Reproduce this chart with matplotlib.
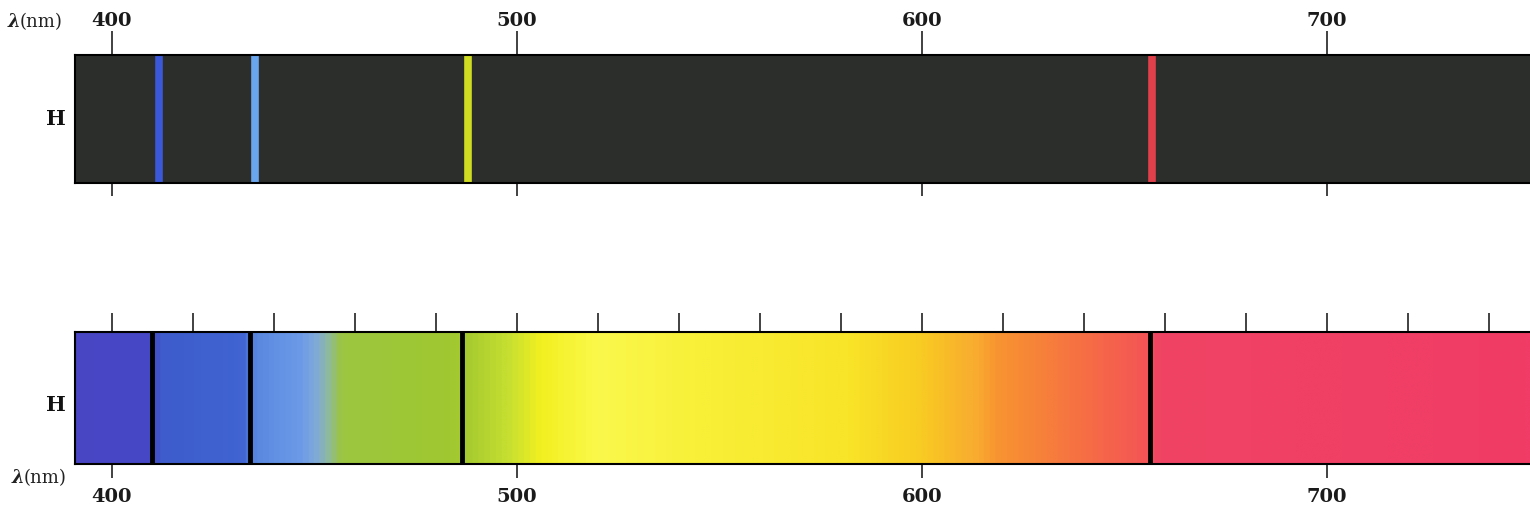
import numpy as np
import matplotlib
matplotlib.use("Agg")
import matplotlib.pyplot as plt
from matplotlib.colors import LinearSegmentedColormap

# -----------------------------------
# DATA
# -----------------------------------
wl_min, wl_max = 390.9, 750.1
label_ticks = [400, 500, 600, 700]
fine_ticks = list(range(400, 741, 20))

# hydrogen lines as drawn (nm)
emission_nm = [411.7, 435.4, 487.8, 656.9]
emission_colors = ["#3a58d8", "#6aa6ee", "#cfdc22", "#e0404a"]
absorption_nm = [409.9, 434.0, 486.4, 656.3]

# colour of the continuous band along the wavelength
band_nm = [390.9, 409.0, 412.0, 431.6, 435.0, 446.0, 450.0, 452.6, 456.0,
           483.0, 488.0, 498.0, 505.7, 520.0, 545.0, 582.0, 599.5, 614.0,
           619.0, 631.6, 644.0, 656.0, 658.8, 750.1]
band_colors = ["#4a46c4", "#4548c6", "#3e5ccc", "#4064d2", "#5a88e0",
               "#6c9ae8", "#80aad8", "#8cb8a8", "#9cc640", "#a0c830",
               "#a8cc30", "#c8e030", "#f2f020", "#fbf84c", "#f8f038",
               "#f8e428", "#f8cc22", "#f8aa30", "#f89430", "#f67e3c",
               "#f66848", "#f45456", "#f04464", "#f03c66"]

# -----------------------------------
# FIGURE
# -----------------------------------
W, H = 1530, 526
fig = plt.figure(figsize=(W / 100, H / 100), dpi=100)
fig.patch.set_facecolor("white")

left = 75 / W
tick_col = "#333333"
num_font = dict(family="DejaVu Serif", size=14, weight="bold", color="#1a1a1a")


def px_box(top_px, bottom_px):
    return [left, 1 - bottom_px / H, 1 - left, (bottom_px - top_px) / H]


# Emission spectrum (top)
ax1 = fig.add_axes(px_box(55, 183))
ax1.set_facecolor("#2b2e2b")
ax1.set_xlim(wl_min, wl_max)
ax1.set_ylim(0, 1)
ax1.set_yticks([])
for wl, c in zip(emission_nm, emission_colors):
    ax1.axvline(wl, color=c, lw=5.5, solid_capstyle="butt")
ax1.xaxis.tick_top()
ax1.set_xticks(label_ticks)
ax1.set_xticklabels([str(t) for t in label_ticks], fontdict=num_font)
ax1.tick_params(axis="x", direction="out", length=17, width=1.3,
                color=tick_col, pad=1)
sec1 = ax1.secondary_xaxis("bottom")
sec1.set_xticks(label_ticks)
sec1.set_xticklabels([])
sec1.tick_params(direction="out", length=9, width=1.3, color=tick_col)
for s in ["top", "bottom", "left"]:
    ax1.spines[s].set_linewidth(1.5)
    ax1.spines[s].set_color("black")
ax1.spines["right"].set_visible(False)
sec1.spines["bottom"].set_visible(False)

# Absorption spectrum (bottom)
ax2 = fig.add_axes(px_box(332, 464))
cmap = LinearSegmentedColormap.from_list(
    "band",
    [((w - wl_min) / (wl_max - wl_min), c) for w, c in zip(band_nm, band_colors)])
grad = np.linspace(wl_min, wl_max, 1500)[None, :]
ax2.imshow(grad, cmap=cmap, vmin=wl_min, vmax=wl_max, aspect="auto",
           extent=[wl_min, wl_max, 0, 1], interpolation="bilinear")
for wl in absorption_nm:
    ax2.axvline(wl, color="black", lw=3.5, solid_capstyle="butt")
ax2.set_xlim(wl_min, wl_max)
ax2.set_ylim(0, 1)
ax2.set_yticks([])
ax2.set_xticks(label_ticks)
ax2.set_xticklabels([str(t) for t in label_ticks], fontdict=num_font)
ax2.tick_params(axis="x", direction="out", length=10, width=1.3,
                color=tick_col, pad=7)
sec2 = ax2.secondary_xaxis("top")
sec2.set_xticks(fine_ticks)
sec2.set_xticklabels([])
sec2.tick_params(direction="out", length=14, width=1.3, color=tick_col)
for s in ["top", "bottom", "left"]:
    ax2.spines[s].set_linewidth(1.5)
    ax2.spines[s].set_color("black")
ax2.spines["right"].set_visible(False)
sec2.spines["top"].set_visible(False)

# side labels
for x_lam, y_lam, y_h in [(20, 22, 119), (24, 478, 405)]:
    fig.text(x_lam / W, 1 - y_lam / H, "λ", ha="right", va="center",
             family="DejaVu Serif", style="italic", weight="bold", size=13,
             color="#222222")
    fig.text(x_lam / W, 1 - y_lam / H, "(nm)", ha="left", va="center",
             family="DejaVu Serif", size=13, color="#222222")
    fig.text(56 / W, 1 - y_h / H, "H", ha="center", va="center",
             family="DejaVu Serif", weight="bold", size=15, color="#111111")

fig.savefig("out.png", dpi=100, facecolor="white")
